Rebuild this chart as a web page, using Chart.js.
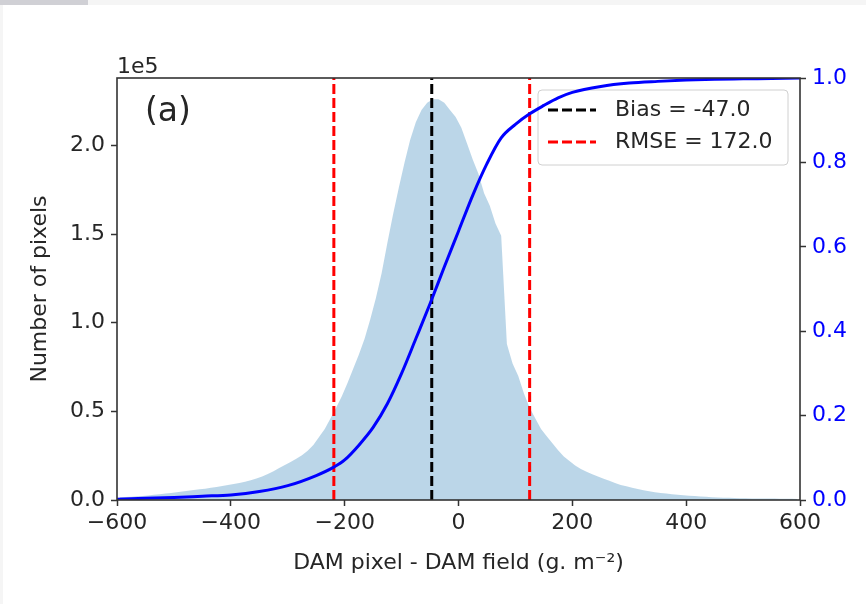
<!DOCTYPE html>
<html>
<head>
<meta charset="utf-8">
<script src="https://cdn.jsdelivr.net/npm/chart.js@4.4.1/dist/chart.umd.min.js"></script>
<style>
  html, body { margin: 0; padding: 0; background: #f5f5f5; }
  #wrap { position: relative; width: 866px; height: 604px; }
</style>
</head>
<body>
<div id="wrap"><canvas id="errChart"></canvas></div>
<script>
// Histogram of DAM pixel - DAM field, 10 g/m2 bins (counts in units of 1e5)
const binCenters = [
  -595, -585, -575, -565, -555, -545, -535, -525, -515, -505,
  -495, -485, -475, -465, -455, -445, -435, -425, -415, -405,
  -395, -385, -375, -365, -355, -345, -335, -325, -315, -305,
  -295, -285, -275, -265, -255, -245, -235, -225, -215, -205,
  -195, -185, -175, -165, -155, -145, -135, -125, -115, -105,
  -95, -85, -75, -65, -55, -45, -35, -25, -15, -5,
  5, 15, 25, 35, 45, 55, 65, 75, 85, 95,
  105, 115, 125, 135, 145, 155, 165, 175, 185, 195,
  205, 215, 225, 235, 245, 255, 265, 275, 285, 295,
  305, 315, 325, 335, 345, 355, 365, 375, 385, 395,
  405, 415, 425, 435, 445, 455, 465, 475, 485, 495,
  505, 515, 525, 535, 545, 555, 565, 575, 585, 595
];
const pixelCountsE5 = [
  0.015, 0.017, 0.019, 0.021, 0.023, 0.026, 0.029, 0.032, 0.036, 0.040,
  0.044, 0.048, 0.052, 0.056, 0.060, 0.064, 0.069, 0.074, 0.079, 0.084,
  0.090, 0.096, 0.103, 0.111, 0.121, 0.133, 0.147, 0.162, 0.180, 0.198,
  0.215, 0.232, 0.252, 0.278, 0.310, 0.355, 0.400, 0.460, 0.520, 0.585,
  0.660, 0.740, 0.820, 0.910, 1.020, 1.140, 1.280, 1.450, 1.610, 1.760,
  1.900, 2.030, 2.130, 2.200, 2.240, 2.260, 2.260, 2.240, 2.200, 2.160,
  2.100, 2.010, 1.920, 1.840, 1.730, 1.660, 1.560, 1.490, 0.880, 0.770,
  0.700, 0.600, 0.520, 0.460, 0.400, 0.360, 0.320, 0.280, 0.245, 0.220,
  0.195, 0.175, 0.160, 0.145, 0.132, 0.120, 0.108, 0.096, 0.085, 0.077,
  0.069, 0.062, 0.055, 0.049, 0.044, 0.040, 0.036, 0.033, 0.030, 0.027,
  0.024, 0.022, 0.020, 0.018, 0.016, 0.014, 0.013, 0.012, 0.011, 0.010,
  0.010, 0.009, 0.009, 0.008, 0.008, 0.008, 0.007, 0.007, 0.007, 0.006
];

// cumulative fraction of pixels
const cdfX = [-600, -550, -500, -450, -400, -350, -300, -250, -219, -200, -175, -150, -125, -100, -75, -50, -25,
  0, 25, 50, 75, 100, 125, 150, 175, 200, 250, 300, 350, 400, 450, 500, 550, 600];
const cdfY = [0.002, 0.004, 0.006, 0.009, 0.012, 0.020, 0.034, 0.058, 0.078, 0.095, 0.130, 0.172, 0.228, 0.300, 0.382, 0.465, 0.552,
  0.637, 0.722, 0.797, 0.858, 0.890, 0.915, 0.935, 0.953, 0.966, 0.980, 0.988, 0.992, 0.995, 0.997, 0.998, 0.999, 1.000];

const bias = -47.0;
const rmse = 172.0;

const xTicks = [-600, -400, -200, 0, 200, 400, 600];
const countTicks = [0, 0.5, 1.0, 1.5, 2.0];
const cdfTicks = [0, 0.2, 0.4, 0.6, 0.8, 1.0];

const COUNT_MAX = 2.38;
const FONT = "'DejaVu Sans', sans-serif";
const TEXT = '#262626';
const SPINE = '#333333';
const DASH = [10, 4];

const minus = v => String(v).replace('-', '\u2212');

function tickGrid() {
  return { drawOnChartArea: false, drawTicks: true, tickLength: 6, tickWidth: 1.5, tickColor: SPINE };
}

// page backdrop and the white panel behind the figure
const backdrop = {
  id: 'backdrop',
  beforeDraw(chart) {
    const ctx = chart.ctx;
    ctx.save();
    ctx.fillStyle = '#f5f5f5';
    ctx.fillRect(0, 0, chart.width, chart.height);
    ctx.fillStyle = '#ffffff';
    ctx.fillRect(3, 5, chart.width - 3, chart.height - 5);
    ctx.fillStyle = '#d0d0d5';
    ctx.fillRect(0, 0, 88, 5);
    ctx.restore();
  }
};

// boxed legend, drawn under the cumulative curve
const boxLegend = {
  id: 'boxLegend',
  beforeDatasetDraw(chart, args) {
    if (chart.data.datasets[args.index].yAxisID !== 'yCdf') return;
    const ctx = chart.ctx;
    const items = chart.data.datasets.filter(d => d.inLegend);
    const x = 538, y = 90, w = 250, h = 75;
    ctx.save();
    ctx.beginPath();
    ctx.roundRect(x, y, w, h, 4);
    ctx.fillStyle = 'rgba(255,255,255,0.8)';
    ctx.fill();
    ctx.strokeStyle = '#d0d0d0';
    ctx.lineWidth = 1;
    ctx.stroke();
    ctx.font = `22px ${FONT}`;
    ctx.textBaseline = 'middle';
    items.forEach((d, i) => {
      const ly = y + 20 + i * 32;
      ctx.beginPath();
      ctx.setLineDash(DASH);
      ctx.strokeStyle = d.borderColor;
      ctx.lineWidth = d.borderWidth;
      ctx.moveTo(548, ly);
      ctx.lineTo(596, ly);
      ctx.stroke();
      ctx.setLineDash([]);
      ctx.fillStyle = TEXT;
      ctx.fillText(d.label, 615, ly);
    });
    ctx.restore();
  }
};

// axes frame, offset text and panel letter
const frame = {
  id: 'frame',
  afterDraw(chart) {
    const { left, right, top, bottom } = chart.chartArea;
    const ctx = chart.ctx;
    ctx.save();
    ctx.strokeStyle = SPINE;
    ctx.lineWidth = 1.6;
    ctx.strokeRect(left, top, right - left, bottom - top);
    ctx.fillStyle = TEXT;
    ctx.textBaseline = 'alphabetic';
    ctx.font = `22px ${FONT}`;
    ctx.fillText('1e5', left, top - 5);
    ctx.font = `33px ${FONT}`;
    ctx.fillText('(a)', left + 28, top + 43);
    ctx.restore();
  }
};

const fixedSize = size => scale => {
  if (scale.isHorizontal()) scale.height = size;
  else scale.width = size;
};

new Chart(document.getElementById('errChart'), {
  type: 'line',
  data: {
    datasets: [
      {
        label: 'Pixels',
        data: binCenters.map((x, i) => ({ x, y: pixelCountsE5[i] })),
        yAxisID: 'yCount',
        fill: 'origin',
        backgroundColor: 'rgba(31,119,180,0.3)',
        borderColor: 'transparent',
        borderWidth: 0,
        pointRadius: 0,
        tension: 0,
        order: 3
      },
      {
        label: `Bias = ${bias.toFixed(1)}`,
        inLegend: true,
        data: [{ x: bias, y: 0 }, { x: bias, y: COUNT_MAX }],
        yAxisID: 'yCount',
        borderColor: '#000000',
        borderWidth: 3,
        borderDash: DASH,
        pointRadius: 0,
        order: 2
      },
      {
        label: `RMSE = ${rmse.toFixed(1)}`,
        inLegend: true,
        data: [
          { x: bias - rmse, y: 0 }, { x: bias - rmse, y: COUNT_MAX },
          { x: bias, y: null },
          { x: bias + rmse, y: 0 }, { x: bias + rmse, y: COUNT_MAX }
        ],
        yAxisID: 'yCount',
        borderColor: '#ff0000',
        borderWidth: 3,
        borderDash: DASH,
        pointRadius: 0,
        spanGaps: false,
        order: 2
      },
      {
        label: 'Cumulative fraction',
        data: cdfX.map((x, i) => ({ x, y: cdfY[i] })),
        yAxisID: 'yCdf',
        borderColor: '#0000ff',
        borderWidth: 3,
        pointRadius: 0,
        cubicInterpolationMode: 'monotone',
        order: 1
      }
    ]
  },
  options: {
    responsive: true,
    maintainAspectRatio: false,
    animation: false,
    layout: { padding: { top: 78, left: 0, right: 0, bottom: 0 } },
    plugins: { legend: { display: false }, tooltip: { enabled: false } },
    scales: {
      x: {
        type: 'linear',
        min: -600,
        max: 600,
        afterBuildTicks: s => { s.ticks = xTicks.map(value => ({ value })); },
        afterFit: fixedSize(104),
        grid: tickGrid(),
        border: { display: false },
        ticks: {
          color: TEXT,
          padding: 4,
          maxRotation: 0,
          font: { family: FONT, size: 22 },
          callback: v => minus(v)
        },
        title: {
          display: true,
          text: 'DAM pixel - DAM field (g. m\u207B\u00B2)',
          color: TEXT,
          font: { family: FONT, size: 22 },
          padding: { top: 0, bottom: 28 }
        }
      },
      yCount: {
        type: 'linear',
        position: 'left',
        min: 0,
        max: COUNT_MAX,
        afterBuildTicks: s => { s.ticks = countTicks.map(value => ({ value })); },
        afterFit: fixedSize(117),
        grid: tickGrid(),
        border: { display: false },
        ticks: {
          color: TEXT,
          padding: 6,
          font: { family: FONT, size: 22 },
          callback: v => v.toFixed(1)
        },
        title: {
          display: true,
          text: 'Number of pixels',
          color: TEXT,
          font: { family: FONT, size: 22 },
          padding: { top: 27, bottom: 0 }
        }
      },
      yCdf: {
        type: 'linear',
        position: 'right',
        min: 0,
        max: 1,
        afterBuildTicks: s => { s.ticks = cdfTicks.map(value => ({ value })); },
        afterFit: fixedSize(66),
        grid: tickGrid(),
        border: { display: false },
        ticks: {
          color: '#0000ff',
          padding: 6,
          font: { family: FONT, size: 22 },
          callback: v => v.toFixed(1)
        }
      }
    }
  },
  plugins: [backdrop, boxLegend, frame]
});
</script>
</body>
</html>
